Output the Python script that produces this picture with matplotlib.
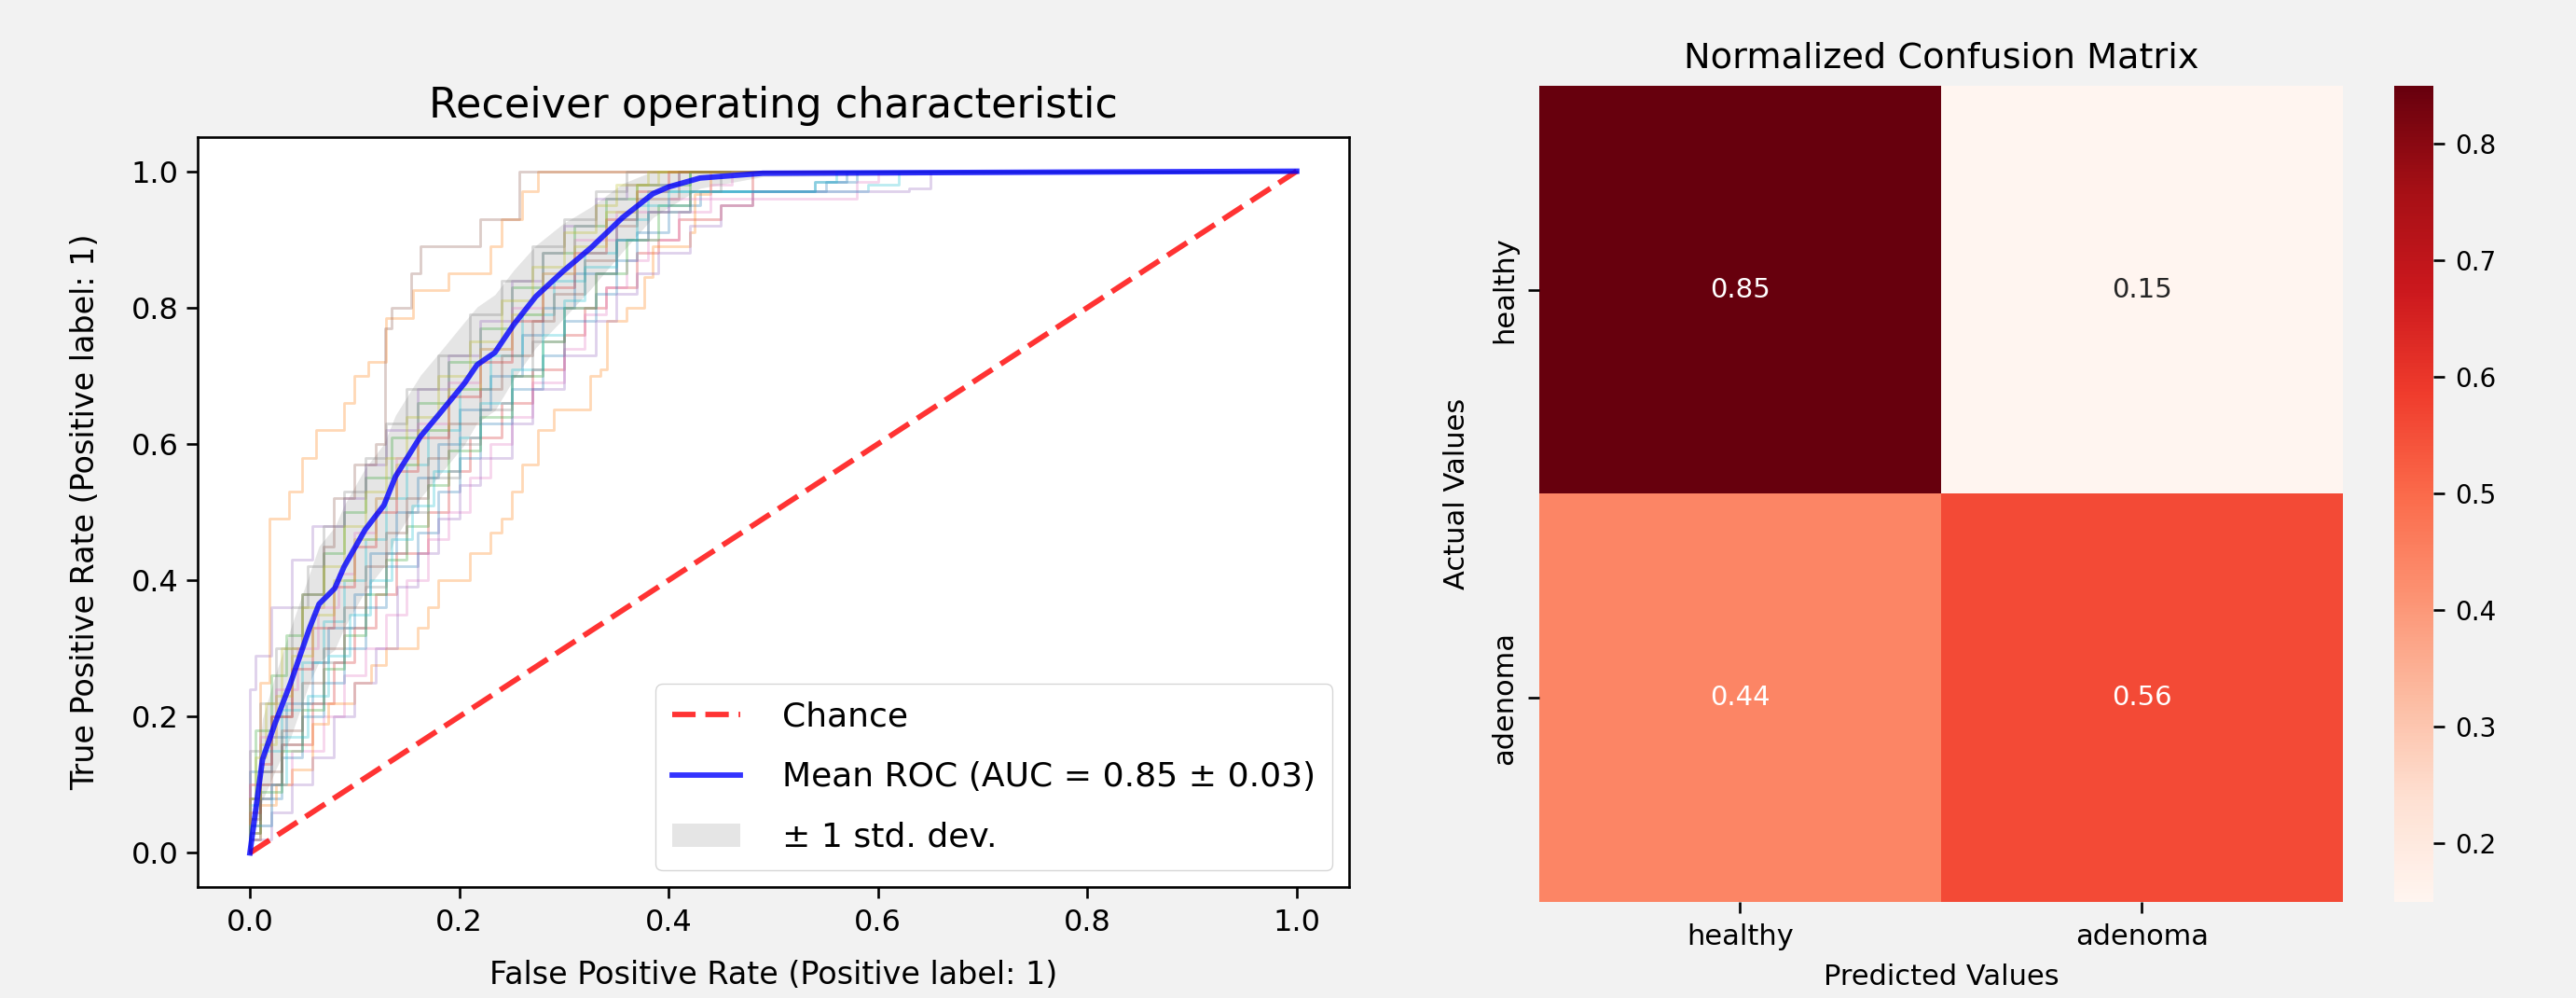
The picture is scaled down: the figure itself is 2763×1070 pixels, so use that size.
import numpy as np
import matplotlib
matplotlib.use("Agg")
import matplotlib.pyplot as plt
import seaborn as sns

# ---- ROC data ----
# each fold: x = fpr where tpr jumps, y = tpr after the jump
folds = [
    ([0, .02, .035, .06, .075, .10, .115, .14, .16, .18, .20, .23, .26, .28, .31, .35, .38, .42, .55, .58, 1],
     [.12, .17, .22, .28, .33, .38, .44, .50, .55, .60, .65, .70, .76, .80, .85, .90, .94, .97, .985, 1, 1]),
    ([0, .01, .019, .037, .05, .063, .09, .10, .113, .13, .156, .19, .23, .24, .26, .275, 1],
     [.10, .25, .49, .53, .58, .62, .66, .70, .72, .785, .826, .85, .89, .93, .97, 1, 1]),
    ([0, .005, .02, .035, .05, .07, .09, .11, .135, .16, .19, .22, .25, .28, .31, .34, .37, .42, 1],
     [.08, .18, .26, .32, .38, .44, .50, .55, .61, .66, .72, .77, .83, .88, .92, .96, .98, 1, 1]),
    ([0, .01, .03, .06, .08, .10, .12, .14, .17, .19, .21, .24, .27, .30, .32, .34, .37, .39, .41, .45, .48, 1],
     [.03, .10, .16, .22, .28, .33, .38, .44, .50, .56, .61, .66, .71, .76, .80, .83, .88, .90, .93, .95, 1, 1]),
    ([0, .005, .02, .04, .06, .09, .11, .13, .16, .19, .22, .25, .28, .30, .33, .36, .41, 1],
     [.24, .29, .36, .43, .48, .52, .57, .62, .68, .73, .78, .84, .88, .92, .96, .98, 1, 1]),
    ([0, .02, .04, .05, .07, .08, .10, .12, .129, .135, .154, .163, .22, .257, 1],
     [.08, .20, .30, .38, .45, .52, .57, .60, .77, .80, .85, .89, .93, 1, 1]),
    ([0, .02, .04, .07, .09, .11, .13, .15, .17, .19, .21, .23, .25, .27, .30, .32, .34, .36, .38, .41, .44, .58, .60, 1],
     [.04, .10, .15, .20, .26, .30, .35, .40, .46, .50, .55, .60, .64, .69, .74, .79, .83, .87, .90, .94, .96, .985, 1, 1]),
    ([0, .01, .025, .04, .055, .07, .09, .11, .13, .15, .18, .21, .24, .27, .30, .33, .36, 1],
     [.15, .22, .30, .36, .42, .48, .53, .58, .63, .68, .73, .79, .84, .89, .93, .97, 1, 1]),
    ([0, .005, .015, .03, .05, .07, .09, .11, .13, .15, .18, .21, .24, .27, .30, .33, .35, .38, 1],
     [.05, .14, .22, .30, .36, .42, .48, .53, .58, .64, .70, .75, .81, .86, .91, .95, .98, 1, 1]),
    ([0, .01, .03, .05, .07, .09, .11, .13, .15, .17, .20, .23, .26, .29, .32, .35, .38, .59, .62, 1],
     [.07, .15, .21, .28, .34, .40, .46, .52, .57, .62, .68, .73, .79, .84, .88, .93, .97, .98, 1, 1]),
    ([0, .01, .03, .05, .07, .09, .11, .13, .16, .18, .20, .22, .25, .28, .30, .33, .35, .37, .40, .43, .54, .57, 1],
     [.02, .08, .14, .20, .25, .30, .36, .42, .47, .53, .58, .63, .68, .73, .78, .82, .87, .91, .95, .97, .985, 1, 1]),
    ([0, .01, .025, .04, .06, .075, .10, .116, .13, .16, .17, .18, .21, .23, .24, .25, .26, .275,
      .29, .325, .335, .341, .36, .377, .385, .42, .425, .44, 1],
     [.02, .07, .10, .123, .19, .22, .25, .275, .30, .33, .36, .40, .44, .47, .49, .53, .57, .62,
      .65, .70, .71, .78, .80, .845, .89, .91, .967, 1, 1]),
    ([0, .01, .03, .05, .07, .09, .11, .13, .15, .17, .19, .22, .25, .28, .30, .33, .36, .39, .42, 1],
     [.03, .09, .15, .21, .27, .32, .38, .43, .48, .54, .59, .64, .70, .75, .80, .85, .90, .95, 1, 1]),
    ([0, .01, .02, .04, .06, .08, .10, .12, .14, .16, .19, .22, .25, .28, .31, .34, .37, .40, 1],
     [.06, .13, .20, .27, .33, .39, .45, .50, .56, .61, .67, .72, .78, .83, .88, .93, .97, 1, 1]),
    ([0, .02, .04, .06, .08, .10, .12, .141, .16, .18, .20, .22, .25, .27, .30, .33, .35, .37, .39,
      .42, .45, .48, .63, .65, 1],
     [.02, .06, .10, .14, .20, .25, .30, .39, .44, .49, .54, .58, .63, .68, .73, .78, .82, .85, .88,
      .92, .95, .97, .975, 1, 1]),
    ([0, .01, .03, .05, .07, .09, .11, .13, .15, .17, .19, .22, .24, .27, .29, .32, .35, .37, .41, 1],
     [.05, .12, .18, .25, .30, .36, .42, .47, .52, .58, .63, .68, .73, .78, .82, .87, .92, .96, 1, 1]),
    ([0, .01, .025, .045, .065, .085, .10, .12, .14, .16, .19, .22, .25, .28, .31, .35, .40, .44, .46, 1],
     [.10, .17, .24, .30, .36, .41, .47, .52, .58, .63, .69, .74, .80, .85, .90, .94, .96, .98, 1, 1]),
    ([0, .01, .03, .05, .07, .09, .11, .13, .15, .17, .20, .22, .25, .27, .30, .33, .35, .38, .42, .45, 1],
     [.04, .10, .16, .22, .28, .33, .39, .44, .50, .55, .60, .65, .70, .75, .80, .85, .90, .94, .97, 1, 1]),
    ([0, .01, .025, .04, .06, .08, .10, .12, .14, .16, .19, .22, .25, .28, .31, .34, .37, .39, 1],
     [.08, .16, .23, .29, .35, .40, .46, .52, .57, .62, .68, .74, .79, .85, .89, .94, .98, 1, 1]),
    ([0, .02, .035, .055, .075, .095, .115, .135, .155, .175, .20, .22, .25, .28, .30, .32, .35, .37, .40, .54, .56, 1],
     [.04, .10, .17, .23, .29, .35, .40, .46, .51, .56, .61, .66, .71, .76, .81, .86, .90, .95, .97, .985, 1, 1]),
]

mean_fpr = [0, .012, .024, .039, .057, .066, .081, .09, .11, .128, .139, .163, .181, .205, .217,
            .234, .252, .273, .299, .326, .356, .385, .40, .43, .49, 1.0]
mean_tpr = [0, .137, .19, .25, .33, .365, .388, .42, .474, .51, .552, .611, .644, .689, .716,
            .734, .775, .816, .853, .888, .932, .967, .977, .99, .997, 1.0]
std_tpr = [0, .06, .07, .08, .08, .085, .09, .09, .09, .09, .09, .09, .09, .09, .085,
           .085, .08, .075, .07, .06, .05, .035, .03, .015, .005, 0]
mean_auc = 0.85
std_auc = 0.03

# ---- confusion matrix ----
classes = ["healthy", "adenoma"]
cm_norm = np.array([[0.85, 0.15],
                    [0.44, 0.56]])

plt.rcParams["font.size"] = 23
plt.rcParams["axes.linewidth"] = 1.9
for a in ("xtick", "ytick"):
    plt.rcParams[a + ".major.width"] = 1.9
    plt.rcParams[a + ".major.size"] = 8.4
    plt.rcParams[a + ".major.pad"] = 8.0

fig = plt.figure(figsize=(27.63, 10.70), dpi=100, facecolor="#f2f2f2")
ax = fig.add_axes([0.0767, 0.1112, 0.447, 0.7514])
colors = plt.rcParams["axes.prop_cycle"].by_key()["color"]

for i, (fx, fy) in enumerate(folds):
    ax.step([0] + fx, [0] + fy, where="post", color=colors[i % 10], lw=2.0, alpha=0.3)

ax.plot([0, 1], [0, 1], linestyle="--", dashes=(4.3, 1.8), lw=4.2, color="r",
        label="Chance", alpha=0.8)
ax.plot(mean_fpr, mean_tpr, color="b", lw=4.2, alpha=0.8,
        label="Mean ROC (AUC = %0.2f \u00b1 %0.2f)" % (mean_auc, std_auc))
mt = np.array(mean_tpr)
st = np.array(std_tpr)
ax.fill_between(mean_fpr, np.maximum(mt - st, 0), np.minimum(mt + st, 1),
                color="grey", alpha=0.2, lw=0, label="\u00b1 1 std. dev.")

ax.set_xlim(-0.05, 1.05)
ax.set_ylim(-0.05, 1.05)
ax.set_xticks([0, .2, .4, .6, .8, 1.0])
ax.set_yticks([0, .2, .4, .6, .8, 1.0])
ax.tick_params(axis="y", pad=6)
ax.set_xlabel("False Positive Rate (Positive label: 1)", fontsize=24, va="center")
ax.xaxis.set_label_coords(0.5, -0.117)
ax.set_ylabel("True Positive Rate (Positive label: 1)", fontsize=24, va="center")
ax.yaxis.set_label_coords(-0.097, 0.5)
ax.set_title("Receiver operating characteristic", fontsize=32, pad=15)
ax.legend(loc="lower right", fontsize=26, labelspacing=0.85, borderpad=0.5,
          handletextpad=1.25)

# ---- heatmap ----
ax2 = fig.add_axes([0.5975, 0.0963, 0.312, 0.8178])
cax = fig.add_axes([0.9294, 0.0963, 0.0152, 0.8178])
sns.heatmap(cm_norm, annot=True, cmap="Reds", ax=ax2, cbar_ax=cax,
            xticklabels=classes, yticklabels=classes, annot_kws={"size": 21})
ax2.set_title("Normalized Confusion Matrix", fontsize=27.5, pad=14)
ax2.set_xlabel("Predicted Values", fontsize=22, va="center")
ax2.xaxis.set_label_coords(0.5, -0.0926)
ax2.set_ylabel("Actual Values", fontsize=22, va="center")
ax2.yaxis.set_label_coords(-0.103, 0.5)
ax2.tick_params(axis="both", labelsize=22)
cax.tick_params(labelsize=20)

fig.savefig("out.png", dpi=100, facecolor=fig.get_facecolor())
